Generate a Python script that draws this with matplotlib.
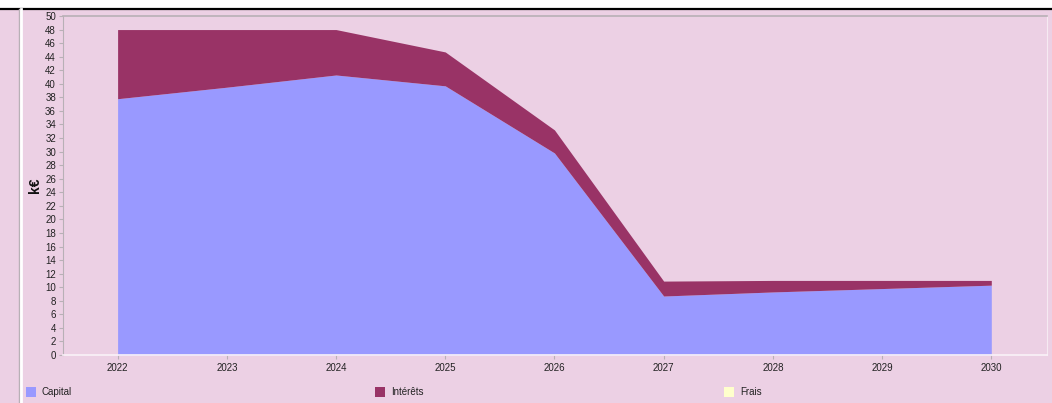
import matplotlib
matplotlib.use("Agg")
import matplotlib.pyplot as plt
from matplotlib.patches import Rectangle
from matplotlib.lines import Line2D

plt.rcParams['font.family'] = ['Liberation Sans', 'DejaVu Sans']

years = [2022, 2023, 2024, 2025, 2026, 2027, 2028, 2029, 2030]
capital = [37.8, 39.5, 41.3, 39.7, 29.8, 8.7, 9.3, 9.8, 10.3]
interets = [10.2, 8.5, 6.7, 5.0, 3.4, 2.2, 1.7, 1.2, 0.7]
frais = [0, 0, 0, 0, 0, 0, 0, 0, 0]
series_names = ["Capital", "Intérêts", "Frais"]
series_colors = ["#9999FF", "#993366", "#FFFFCC"]
y_ticks = list(range(0, 51, 2))

BG = "#ECD0E4"
W, H = 1052, 403
fig = plt.figure(figsize=(W / 100, H / 100), dpi=100, facecolor=BG)

# top white band and border lines
fig.add_artist(Rectangle((0, 1 - 8 / H), 1, 8 / H, transform=fig.transFigure,
                         facecolor="white", edgecolor="none", zorder=0))
fig.add_artist(Line2D([0, 1], [1 - 9 / H] * 2, transform=fig.transFigure,
                      color="black", lw=1.6))
fig.add_artist(Line2D([18.5 / W] * 2, [0, 1 - 9 / H], transform=fig.transFigure,
                      color="#B8B0B6", lw=1.0))
fig.add_artist(Line2D([21 / W] * 2, [0, 1 - 9 / H], transform=fig.transFigure,
                      color="white", lw=2.0))

left, right, top, bottom = 63, 1047, 16, 355
ax = fig.add_axes([left / W, 1 - bottom / H, (right - left) / W, (bottom - top) / H])
ax.set_facecolor(BG)

stack = [capital, interets, frais]
base = [0] * len(years)
for vals, col in zip(stack, series_colors):
    topv = [b + v for b, v in zip(base, vals)]
    ax.fill_between(years, base, topv, color=col, lw=0, antialiased=False)
    base = topv

ax.set_xlim(2021.5, 2030.51)
ax.set_ylim(0, 50)
ax.set_xticks(years)
ax.set_xticklabels([str(y) for y in years])
ax.set_yticks(y_ticks)
ax.set_yticklabels([str(t) for t in y_ticks])
ax.tick_params(axis="both", labelsize=7, colors="#B8B0B6", labelcolor="#222222",
               length=3, width=0.8, pad=2)
ax.tick_params(axis="x", pad=3)

ax.spines["left"].set_color("#B8B0B6")
ax.spines["top"].set_color("#B8B0B6")
ax.spines["top"].set_linewidth(1.2)
ax.spines["right"].set_color("#F6EAF2")
ax.spines["bottom"].set_color("#FAF2F8")
ax.spines["bottom"].set_linewidth(1.2)

fig.text(35 / W, 1 - 185 / H, "k€", rotation=90, ha="center", va="center",
         fontsize=10, fontweight="bold", color="#111111")

# legend row
leg_x = [26, 375, 724]
for x0, name, col in zip(leg_x, series_names, series_colors):
    fig.add_artist(Rectangle((x0 / W, 1 - 397 / H), 10 / W, 10 / H,
                             transform=fig.transFigure, facecolor=col,
                             edgecolor="none"))
    fig.text((x0 + 16) / W, 1 - 392 / H, name, ha="left", va="center",
             fontsize=7, color="#222222")

fig.savefig("out.png", dpi=100, facecolor=BG)
